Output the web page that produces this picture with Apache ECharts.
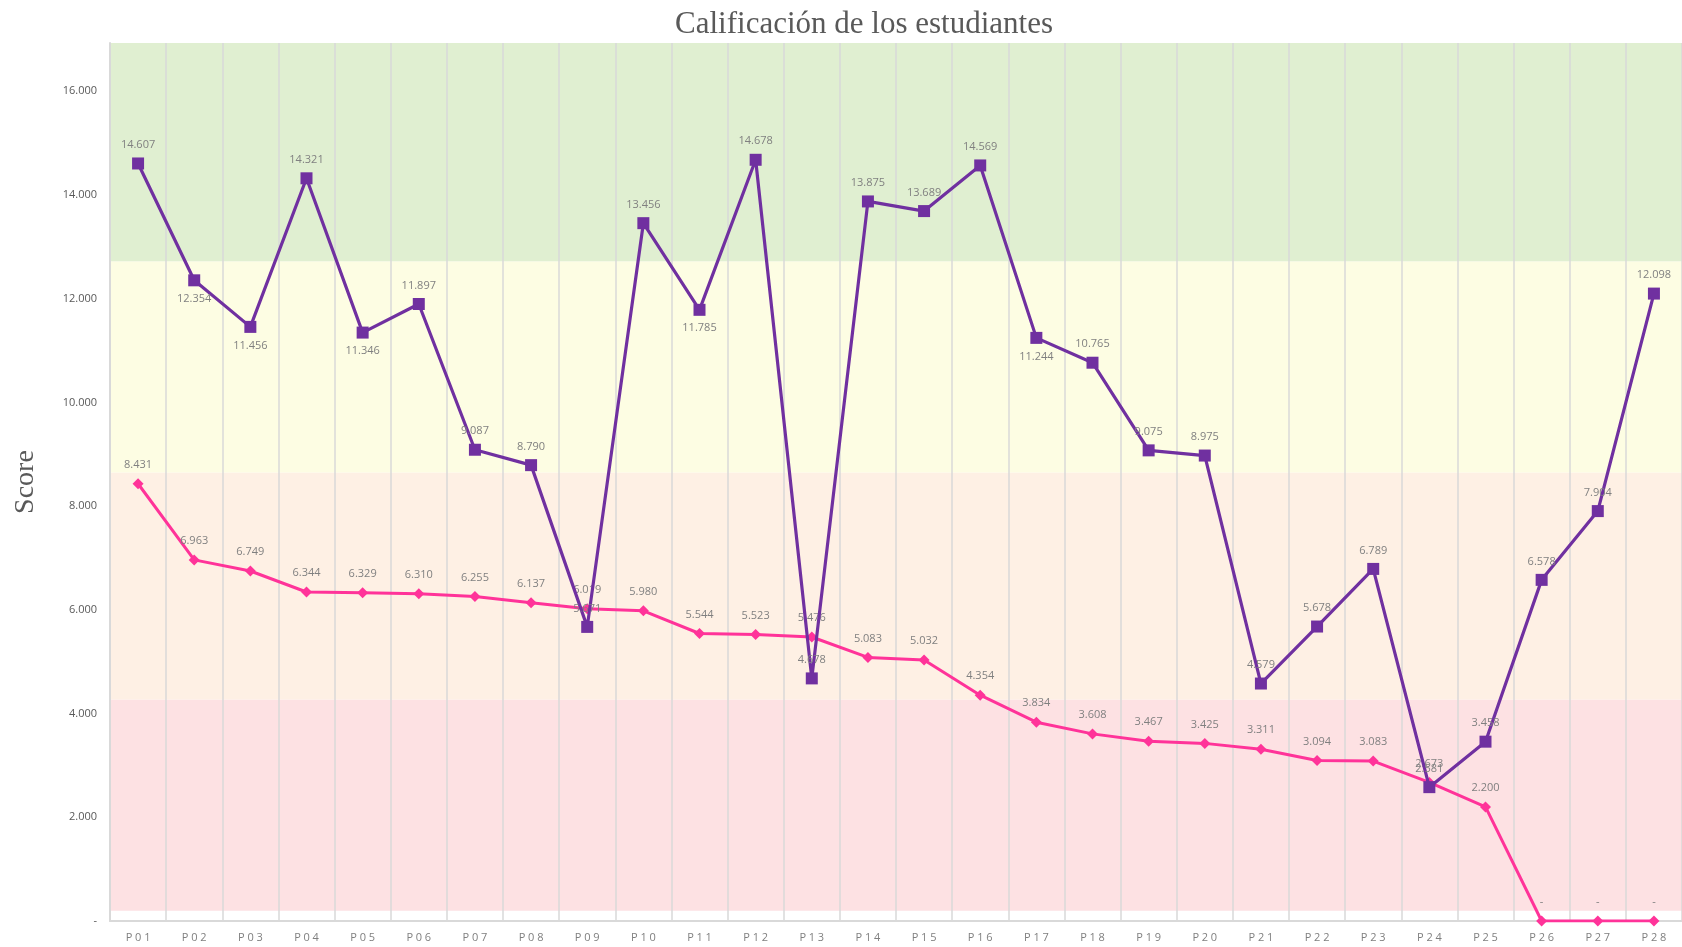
<!DOCTYPE html>
<html>
<head>
<meta charset="utf-8">
<title>Calificación de los estudiantes</title>
<script src="https://cdn.jsdelivr.net/npm/echarts@6/dist/echarts.min.js"></script>
<style>
  html, body { margin: 0; padding: 0; background: #ffffff; }
  #chart { width: 1682px; height: 947px; }
</style>
</head>
<body>
<div id="chart"></div>
<script>
// Students on the x axis
const categories = ['P01','P02','P03','P04','P05','P06','P07','P08','P09','P10','P11','P12','P13','P14',
                    'P15','P16','P17','P18','P19','P20','P21','P22','P23','P24','P25','P26','P27','P28'];

// Purple series (square markers)
const scoreA = [14.607, 12.354, 11.456, 14.321, 11.346, 11.897, 9.087, 8.790, 5.671, 13.456, 11.785, 14.678, 4.678, 13.875,
                13.689, 14.569, 11.244, 10.765, 9.075, 8.975, 4.579, 5.678, 6.789, 2.581, 3.458, 6.578, 7.904, 12.098];

// Pink series (diamond markers), sorted descending
const scoreB = [8.431, 6.963, 6.749, 6.344, 6.329, 6.310, 6.255, 6.137, 6.019, 5.980, 5.544, 5.523, 5.476, 5.083,
                5.032, 4.354, 3.834, 3.608, 3.467, 3.425, 3.311, 3.094, 3.083, 2.673, 2.200, 0, 0, 0];

// Points of the purple series whose value label sits under the marker
const labelsBelowA = ['P02', 'P03', 'P05', 'P11', 'P17'];

// Grade bands behind the lines: [from, to, colour]
const bands = [
  [0.2, 4.27, '#fde1e3'],
  [4.27, 8.65, '#fef0e4'],
  [8.65, 12.72, '#fdfde3'],
  [12.72, 16.93, '#e0efd1']
];

const yMax = 16.93;

const fmt = v => (v === 0 ? '-' : v.toFixed(3));
const labelFont = { fontFamily: 'Open Sans', fontSize: 11, color: '#808080' };

const dataA = scoreA.map((v, i) => ({
  value: v,
  label: { position: labelsBelowA.includes(categories[i]) ? 'bottom' : 'top' }
}));

const chart = echarts.init(document.getElementById('chart'), null, { renderer: 'canvas' });

chart.setOption({
  animation: false,
  backgroundColor: '#ffffff',
  title: {
    text: 'Calificación de los estudiantes',
    left: 859,
    textAlign: 'center',
    top: 4,
    textStyle: { fontFamily: 'Liberation Serif', fontSize: 31, fontWeight: 'normal', color: '#595959' }
  },
  grid: { left: 110, right: 0, top: 43, bottom: 26, containLabel: false },
  xAxis: {
    type: 'category',
    data: categories,
    boundaryGap: true,
    axisLine: { lineStyle: { color: '#d9d9d9', width: 2 } },
    axisTick: { show: false },
    splitLine: { show: true, lineStyle: { color: '#d9d9d9', width: 1.5 } },
    axisLabel: {
      margin: 11,
      fontFamily: 'Open Sans',
      fontSize: 11,
      color: '#7f7f7f',
      // spread the characters of each label a little
      formatter: v => v.split('').join('\u2005')
    },
    z: 3
  },
  yAxis: {
    type: 'value',
    min: 0,
    max: yMax,
    interval: 2,
    name: 'Score',
    nameLocation: 'middle',
    nameGap: 70,
    nameRotate: 90,
    nameTextStyle: { fontFamily: 'Liberation Serif', fontSize: 28, color: '#595959' },
    axisLine: { show: true, lineStyle: { color: '#d9d9d9', width: 2 } },
    axisTick: { show: false },
    splitLine: { show: false },
    axisLabel: {
      margin: 13,
      fontFamily: 'Open Sans',
      fontSize: 11,
      color: '#595959',
      showMaxLabel: false,
      formatter: v => (v === 0 ? '-' : v.toFixed(3))
    },
    z: 3
  },
  series: [
    {
      name: 'bands',
      type: 'line',
      data: [],
      silent: true,
      z: -1,
      markArea: {
        silent: true,
        z: -1,
        data: bands.map(b => [
          { yAxis: b[0], itemStyle: { color: b[2], opacity: 1 } },
          { yAxis: b[1] }
        ])
      }
    },
    {
      name: 'B',
      type: 'line',
      data: scoreB,
      symbol: 'diamond',
      symbolSize: 11,
      itemStyle: { color: '#ff3399' },
      lineStyle: { color: '#ff3399', width: 3 },
      label: { show: true, position: 'top', distance: 8, formatter: p => fmt(p.value), ...labelFont },
      z: 4
    },
    {
      name: 'A',
      type: 'line',
      data: dataA,
      symbol: 'rect',
      symbolSize: 12,
      itemStyle: { color: '#7030a0' },
      lineStyle: { color: '#7030a0', width: 3.2 },
      label: { show: true, distance: 7, formatter: p => fmt(p.value), ...labelFont },
      z: 5
    }
  ]
});
</script>
</body>
</html>
